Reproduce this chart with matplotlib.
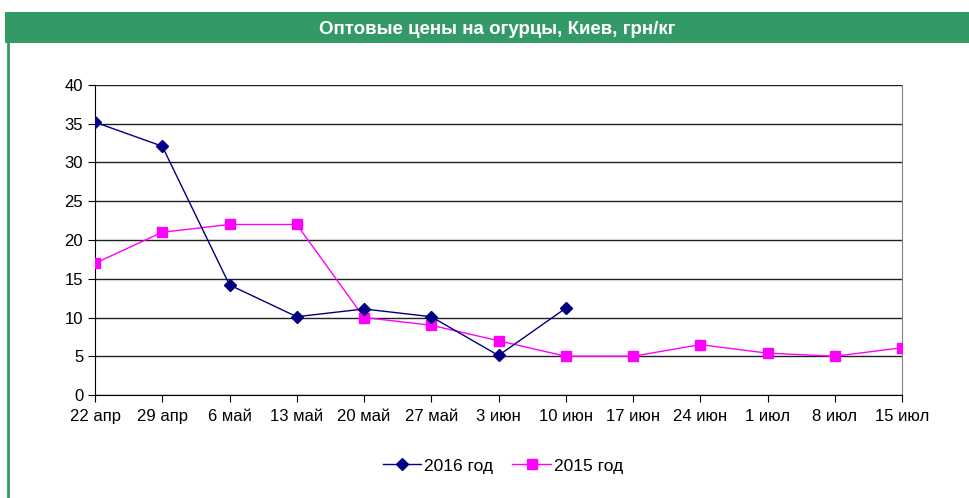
import matplotlib
matplotlib.use("Agg")
import matplotlib.pyplot as plt
from matplotlib.patches import Rectangle
from matplotlib.lines import Line2D

dates = ["22 апр", "29 апр", "6 май", "13 май", "20 май", "27 май", "3 июн",
         "10 июн", "17 июн", "24 июн", "1 июл", "8 июл", "15 июл"]
y2016 = [35.2, 32.1, 14.2, 10.1, 11.1, 10.1, 5.1, 11.2]
y2015 = [17, 21, 22, 22, 10, 9, 7, 5, 5, 6.5, 5.4, 5.0, 6.1]
yticks = [0, 5, 10, 15, 20, 25, 30, 35, 40]

plt.rcParams['font.family'] = ['Liberation Sans', 'DejaVu Sans']

W, H = 969, 498
fig = plt.figure(figsize=(W / 100, H / 100), dpi=100)

# title bar
green = "#339966"
fig.patches.append(Rectangle((5 / W, 1 - 43 / H), 1 - 5 / W, 31 / H,
                             transform=fig.transFigure, facecolor=green,
                             edgecolor="none"))
fig.lines.append(Line2D([8 / W, 8 / W], [0, 1 - 43 / H], transform=fig.transFigure,
                        color=green, lw=2))
fig.text(497 / W, 1 - 29 / H, "Оптовые цены на огурцы, Киев, грн/кг",
         ha="center", va="center", color="white", fontsize=13.5, fontweight="bold")

left, right, top, bottom = 95, 902, 85, 395
ax = fig.add_axes([left / W, 1 - bottom / H, (right - left) / W, (bottom - top) / H])

x = list(range(len(dates)))
ax.plot(x[:len(y2016)], y2016, color="#000080", lw=1, marker="D", markersize=6,
        label="2016 год", zorder=4)
ax.plot(x, y2015, color="#FF00FF", lw=1, marker="s", markersize=7.5,
        label="2015 год", zorder=3)

ax.set_xlim(0, len(dates) - 1)
ax.set_ylim(0, 40)
ax.set_yticks(yticks)
ax.set_xticks(x)
ax.set_xticklabels(dates)
ax.grid(axis="y", color="#202020", lw=1)
ax.set_axisbelow(True)
ax.tick_params(axis="both", labelsize=12, direction="out", length=5, color="black")
ax.tick_params(axis="x", pad=5)
ax.spines["top"].set_visible(False)
ax.spines["right"].set_color("#808080")
ax.spines["left"].set_color("black")
ax.spines["bottom"].set_color("black")
for lbl in ax.get_xticklabels():
    lbl.set_clip_on(False)

leg = fig.legend(loc="center", bbox_to_anchor=(503 / W, 1 - 466 / H), ncol=2,
                 frameon=False, fontsize=12.5, handlelength=2.2, columnspacing=1.1,
                 handletextpad=0.2)

fig.savefig("out.png", dpi=100)
